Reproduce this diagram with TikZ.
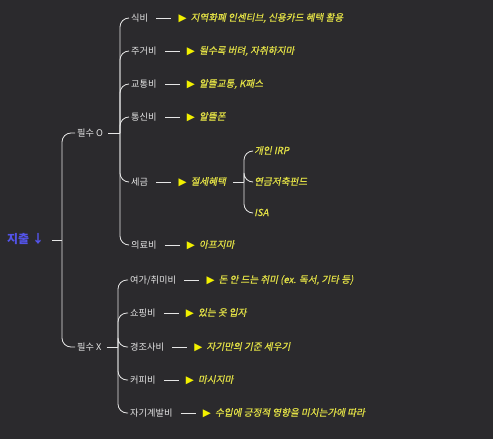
\documentclass[tikz,border=0pt]{standalone}
\usepackage{fontspec}
\setmainfont{Noto Sans CJK KR}
\newfontfamily\yitfont[FakeSlant=0.2,FakeBold=0.6]{Noto Sans CJK KR}
\newfontfamily\symfont{DejaVu Sans}
\usetikzlibrary{positioning}
\definecolor{bgc}{HTML}{2B2A2D}
\definecolor{wtc}{HTML}{E6E6E6}
\definecolor{ylc}{HTML}{E2E046}
\definecolor{trc}{HTML}{F2F000}
\definecolor{blc}{HTML}{5353E8}
\newcommand{\tri}{{\symfont\fontsize{10.5}{10}\selectfont\color{trc}▶}\hspace{4pt}}
\tikzset{
    wl/.style={ % white label
        text=wtc,
        font=\fontsize{9.2}{10}\selectfont,
        inner sep=2pt,
        anchor=west,
        text height=7.5pt,
        text depth=1.5pt
        },
    yl/.style={ % yellow tip
        wl,
        text=ylc,
        font=\yitfont\fontsize{9.6}{10}\selectfont
        },
    rl/.style={ % root label
        wl,
        text=blc,
        font=\bfseries\fontsize{12}{12}\selectfont
        },
    stl/.style={ % straight line
        draw=wtc,
        line width=0.8pt
        },
    brl/.style={ % branch line
        stl,
        rounded corners=9pt
        },
    dl/.style={ % dash before tip
        stl,
        shorten <=6pt,
        shorten >=5pt
        }
}
\begin{document}
\begin{tikzpicture}[x=1pt,y=-1pt]
		\fill[bgc] (0,0) rectangle (493,439);
		\useasboundingbox (0,0) rectangle (493,439);
		
		%%%%% root n0
		\node[rl] (n0) at (5,240) {지출 ↓};
		\coordinate (j0) at (62,240);
		\draw[stl,shorten <=6pt] (n0) -- (j0);
		
		%%%%% node n1
		\node[wl] (n1) at (75,133) {필수 O};
		\coordinate (j1) at (120,133);
		\draw[brl] (j0) |- (n1.west);
		\draw[stl,shorten <=3pt] (n1) -- (j1);
		
		%%%%% node n2
		\node[wl] (n2) at (75,347) {필수 X};
		\coordinate (j2) at (118,347);
		\draw[brl] (j0) |- (n2.west);
		\draw[stl,shorten <=3pt] (n2) -- (j2);
		
		%%%%% node n11
		\node[wl] (n11) at (129,18) {식비};
		\node[yl,right=26pt of n11] (n11t) {\tri 지역화폐 인센티브, 신용카드 혜택 활용};
		\draw[brl] (j1) |- (n11.west);
		\draw[dl] (n11) -- (n11t);
		
		%%%%% node n12
		\node[wl] (n12) at (129,51) {주거비};
		\node[yl,right=26pt of n12] (n12t) {\tri 될수록 버텨, 자취하지마};
		\draw[brl] (j1) |- (n12.west);
		\draw[dl] (n12) -- (n12t);
		
		%%%%% node n13
		\node[wl] (n13) at (129,84) {교통비};
		\node[yl,right=26pt of n13] (n13t) {\tri 알뜰교통, K패스};
		\draw[brl] (j1) |- (n13.west);
		\draw[dl] (n13) -- (n13t);
		
		%%%%% node n14
		\node[wl] (n14) at (129,117) {통신비};
		\node[yl,right=26pt of n14] (n14t) {\tri 알뜰폰};
		\draw[brl] (j1) |- (n14.west);
		\draw[dl] (n14) -- (n14t);
		
		%%%%% node n15
		\node[wl] (n15) at (129,182) {세금};
		\node[yl,right=26pt of n15] (n15t) {\tri 절세혜택};
		\draw[brl] (j1) |- (n15.west);
		\draw[dl] (n15) -- (n15t);
		\coordinate (j15) at (244,182);
		\draw[stl,shorten <=5pt] (n15t) -- (j15);
		
		%%%%% nodes n151 - n153
		\node[yl] (n151) at (252,151) {개인 IRP};
		\node[yl] (n152) at (252,182) {연금저축펀드};
		\node[yl] (n153) at (252,213) {ISA};
		\draw[brl] (j15) |- (n151.west);
		\draw[brl] (j15) |- (n152.west);
		\draw[brl] (j15) |- (n153.west);
		
		%%%%% node n16
		\node[wl] (n16) at (129,245) {의료비};
		\node[yl,right=26pt of n16] (n16t) {\tri 아프지마};
		\draw[brl] (j1) |- (n16.west);
		\draw[dl] (n16) -- (n16t);
		
		%%%%% node n21
		\node[wl] (n21) at (128,280) {여가/취미비};
		\node[yl,right=26pt of n21] (n21t) {\tri 돈 안 드는 취미 (ex. 독서, 기타 등)};
		\draw[brl] (j2) |- (n21.west);
		\draw[dl] (n21) -- (n21t);
		
		%%%%% node n22
		\node[wl] (n22) at (128,313) {쇼핑비};
		\node[yl,right=26pt of n22] (n22t) {\tri 있는 옷 입자};
		\draw[brl] (j2) |- (n22.west);
		\draw[dl] (n22) -- (n22t);
		
		%%%%% node n23
		\node[wl] (n23) at (128,347) {경조사비};
		\node[yl,right=26pt of n23] (n23t) {\tri 자기만의 기준 세우기};
		\draw[brl] (j2) |- (n23.west);
		\draw[dl] (n23) -- (n23t);
		
		%%%%% node n24
		\node[wl] (n24) at (128,380) {커피비};
		\node[yl,right=26pt of n24] (n24t) {\tri 마시지마};
		\draw[brl] (j2) |- (n24.west);
		\draw[dl] (n24) -- (n24t);
		
		%%%%% node n25
		\node[wl] (n25) at (128,413) {자기계발비};
		\node[yl,right=26pt of n25] (n25t) {\tri 수입에 긍정적 영향을 미치는가에 따라};
		\draw[brl] (j2) |- (n25.west);
		\draw[dl] (n25) -- (n25t);
\end{tikzpicture}
\end{document}
